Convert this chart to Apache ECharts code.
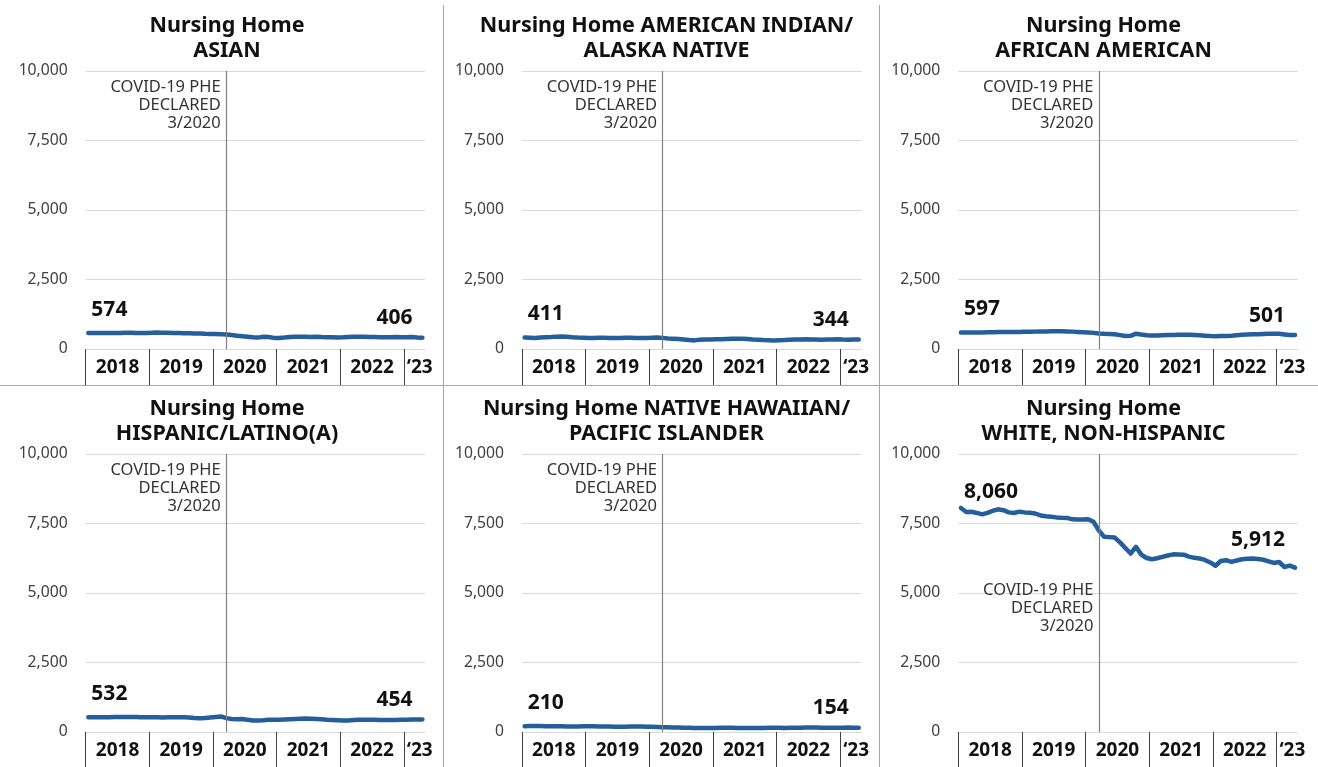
<!DOCTYPE html>
<html>
<head>
<meta charset="utf-8">
<title>Nursing Home by race/ethnicity</title>
<script src="https://cdn.jsdelivr.net/npm/echarts@6/dist/echarts.min.js"></script>
<style>
  html, body { margin: 0; padding: 0; background: #fff; }
  #chart { width: 1318px; height: 767px; }
</style>
</head>
<body>
<div id="chart"></div>
<script>
// monthly categories, Jan 2018 .. Apr 2023
const months = []
for (let y = 2018; y <= 2023; y++) {
  for (let m = 1; m <= 12; m++) {
    if (y === 2023 && m > 4) break
    months.push(y + '-' + String(m).padStart(2, '0'))
  }
}
// month boundaries (one more than months), used for the year separators
const monthEdges = months.map((m, i) => i).concat([months.length])
const yearLabels = ['2018', '2019', '2020', '2021', '2022', '\u201823']
const yTicks = [0, 2500, 5000, 7500, 10000]
const covidMonth = '2020-03'

const asian = [574, 572, 576, 580, 578, 575, 580, 585, 582, 578, 575, 580,
  585, 590, 588, 585, 580, 575, 570, 565, 560, 555, 545, 540,
  540, 535, 520, 500, 480, 460, 440, 420, 410, 440, 430, 400,
  395, 410, 430, 440, 445, 440, 435, 440, 430, 425, 420, 415,
  420, 430, 440, 445, 440, 435, 430, 425, 420, 425, 430, 425,
  420, 430, 415, 406]
const aian = [411, 405, 400, 410, 420, 430, 445, 450, 440, 420, 410, 405,
  400, 400, 402, 405, 400, 398, 400, 402, 405, 400, 398, 400,
  405, 410, 400, 380, 370, 360, 340, 320, 310, 330, 340, 345,
  350, 355, 360, 365, 370, 365, 360, 340, 330, 320, 315, 310,
  315, 320, 330, 340, 345, 350, 345, 340, 335, 340, 345, 350,
  340, 335, 340, 344]
const africanAmerican = [597, 595, 593, 592, 595, 600, 605, 610, 612, 610, 612, 615,
  618, 620, 625, 630, 632, 635, 637, 635, 630, 625, 615, 605,
  595, 580, 560, 545, 540, 530, 500, 465, 475, 550, 520, 495,
  485, 490, 495, 500, 505, 510, 512, 510, 505, 495, 480, 465,
  460, 465, 470, 480, 495, 510, 520, 530, 535, 540, 545, 550,
  548, 525, 505, 501]
const hispanic = [532, 530, 528, 530, 535, 538, 540, 542, 540, 538, 535, 532,
  530, 528, 525, 527, 530, 532, 530, 520, 505, 495, 500, 520,
  540, 560, 500, 470, 460, 465, 440, 415, 410, 420, 440, 445,
  440, 450, 460, 470, 480, 482, 475, 465, 455, 440, 430, 420,
  412, 418, 430, 440, 445, 444, 440, 436, 432, 430, 435, 440,
  445, 450, 452, 454]
const nhpi = [210, 212, 215, 213, 210, 208, 205, 203, 200, 198, 200, 205,
  210, 205, 200, 198, 195, 190, 188, 190, 195, 198, 195, 190,
  185, 180, 175, 170, 165, 160, 155, 150, 145, 140, 142, 145,
  148, 150, 152, 150, 148, 145, 142, 140, 145, 148, 150, 152,
  150, 148, 150, 152, 155, 158, 160, 158, 155, 152, 150, 152,
  155, 158, 156, 154]
const white = [8060, 7914, 7920, 7880, 7830, 7880, 7960, 8010, 7980, 7900, 7880, 7925,
  7900, 7890, 7860, 7790, 7760, 7740, 7720, 7705, 7700, 7650, 7640, 7645,
  7650, 7560, 7250, 7020, 7010, 6995, 6820, 6620, 6420, 6660, 6380, 6260,
  6213, 6250, 6300, 6350, 6390, 6385, 6380, 6310, 6265, 6240, 6190, 6100,
  5980, 6150, 6180, 6120, 6170, 6213, 6230, 6237, 6220, 6195, 6140, 6080,
  6115, 5935, 5986, 5912]

const panels = [
  { title: 'Nursing Home\nASIAN', values: asian, covidAt: 8750 },
  { title: 'Nursing Home AMERICAN INDIAN/\nALASKA NATIVE', values: aian, covidAt: 8750 },
  { title: 'Nursing Home\nAFRICAN AMERICAN', values: africanAmerican, covidAt: 8750 },
  { title: 'Nursing Home\nHISPANIC/LATINO(A)', values: hispanic, covidAt: 8750 },
  { title: 'Nursing Home NATIVE HAWAIIAN/\nPACIFIC ISLANDER', values: nhpi, covidAt: 8750 },
  { title: 'Nursing Home\nWHITE, NON-HISPANIC', values: white, covidAt: 4460, startDy: 0, endDy: -12 }
]

const FONT = '"Noto Sans", "Open Sans", sans-serif'
const colX = [85.7, 522, 958.3]
const rowY = [71, 454]
const gridW = 339.4
const gridH = 278
const panelCx = [222, 661.5, 1098.5]
const titleTop = [8, 391]

const chart = echarts.init(document.getElementById('chart'))

const option = {
  animation: false,
  textStyle: { fontFamily: FONT },
  title: [], grid: [], xAxis: [], yAxis: [], series: [],
  graphic: [
    { type: 'line', shape: { x1: 443.5, y1: 5, x2: 443.5, y2: 767 }, style: { stroke: '#a6a6a6', lineWidth: 1 } },
    { type: 'line', shape: { x1: 879.5, y1: 5, x2: 879.5, y2: 767 }, style: { stroke: '#a6a6a6', lineWidth: 1 } },
    { type: 'line', shape: { x1: 0, y1: 385.5, x2: 1318, y2: 385.5 }, style: { stroke: '#a6a6a6', lineWidth: 1 } }
  ]
}

panels.forEach((p, k) => {
  const c = k % 3
  const r = Math.floor(k / 3)
  const last = p.values.length - 1
  option.title.push({
    text: p.title,
    left: panelCx[c],
    top: titleTop[r],
    textAlign: 'center',
    textStyle: { fontFamily: FONT, fontSize: 21.5, fontWeight: 'bold', color: '#111', lineHeight: 25 }
  })
  option.grid.push({
    left: colX[c],
    top: rowY[r],
    width: gridW,
    height: gridH
  })
  // data axis: one band per month (hidden)
  option.xAxis.push({
    type: 'category',
    gridIndex: k,
    position: 'top',
    data: months,
    boundaryGap: true,
    axisLine: { show: false },
    axisTick: { show: false },
    axisLabel: { show: false },
    splitLine: { show: false }
  })
  // separator axis: month boundaries, ticks at each January, year labels centred
  option.xAxis.push({
    type: 'category',
    gridIndex: k,
    position: 'bottom',
    data: monthEdges,
    boundaryGap: false,
    axisLine: { show: true, lineStyle: { color: '#d9d9d9' } },
    axisTick: {
      show: true,
      length: 36,
      interval: (i) => i % 12 === 0 && i < months.length,
      lineStyle: { color: '#404040' }
    },
    axisLabel: {
      interval: (i) => (i % 12 === 6 && i < 60) || i === 63,
      formatter: (v, i) => yearLabels[Math.floor(i / 12)],
      fontFamily: FONT,
      fontSize: 19,
      fontWeight: 'bold',
      color: '#111',
      margin: 9
    },
    splitLine: { show: false }
  })
  option.yAxis.push({
    type: 'value',
    gridIndex: k,
    min: yTicks[0],
    max: yTicks[yTicks.length - 1],
    interval: yTicks[1] - yTicks[0],
    axisLine: { show: false },
    axisTick: { show: false },
    axisLabel: {
      formatter: (v) => v.toLocaleString('en-US'),
      fontFamily: FONT,
      fontSize: 15.7,
      color: '#404040',
      margin: 18
    },
    splitLine: { lineStyle: { color: '#d9d9d9', width: 1 } }
  })
  const labelBase = { show: true, position: 'top', fontFamily: FONT, fontSize: 21, fontWeight: 'bold', color: '#111' }
  const sd = p.startDy !== undefined ? p.startDy : -8
  const ed = p.endDy !== undefined ? p.endDy : -4
  const data = p.values.map((v, i) => {
    if (i === 0) return { value: v, label: Object.assign({}, labelBase, { align: 'left', offset: [3, sd], formatter: (d) => d.value.toLocaleString('en-US') }) }
    if (i === last) return { value: v, label: Object.assign({}, labelBase, { align: 'right', offset: [-10, ed], formatter: (d) => d.value.toLocaleString('en-US') }) }
    return v
  })
  option.series.push({
    type: 'line',
    xAxisIndex: 2 * k,
    yAxisIndex: k,
    data: data,
    symbol: 'circle',
    symbolSize: 0,
    showSymbol: true,
    showAllSymbol: true,
    lineStyle: { color: '#245f9c', width: 4.5, cap: 'round', join: 'round' },
    itemStyle: { color: '#245f9c' },
    label: { show: false },
    markLine: {
      silent: true,
      symbol: ['none', 'none'],
      lineStyle: { color: '#808080', width: 1.2, type: 'solid' },
      label: { show: false },
      data: [{ xAxis: covidMonth }]
    },
    markPoint: {
      silent: true,
      symbol: 'rect',
      symbolSize: 1,
      itemStyle: { color: 'rgba(0,0,0,0)' },
      label: {
        show: true,
        position: 'left',
        distance: 5,
        align: 'right',
        formatter: 'COVID-19 PHE\nDECLARED\n3/2020',
        fontFamily: FONT,
        fontSize: 16.5,
        lineHeight: 18,
        color: '#333'
      },
      data: [{ coord: [covidMonth, p.covidAt] }]
    }
  })
})

chart.setOption(option)
</script>
</body>
</html>
